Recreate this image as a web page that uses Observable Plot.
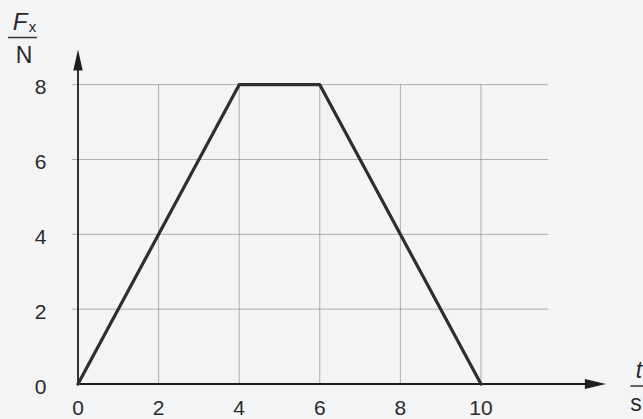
<!DOCTYPE html>
<html>
<head>
<meta charset="utf-8">
<script src="https://cdn.jsdelivr.net/npm/d3@7"></script>
<script src="https://cdn.jsdelivr.net/npm/@observablehq/plot@0.6"></script>
<style>
  html, body { margin: 0; padding: 0; background: #f3f4f6; }
</style>
</head>
<body>
<div id="chart"></div>
<script>
// Data
const time = [0, 4, 6, 10];        // t in s
const force = [0, 8, 8, 0];        // F_x in N
const xTicks = [0, 2, 4, 6, 8, 10];
const yTicks = [0, 2, 4, 6, 8];
const xGrid = [2, 4, 6, 8, 10];
const yGrid = [2, 4, 6, 8];

const xMax = 13.1;   // arrow tip of t axis
const yMax = 8.94;   // arrow tip of F axis
const gridRight = 11.67;
const gridLeft = -0.14;

const points = time.map((t, i) => ({ t, f: force[i] }));

const arrowRight = { draw(ctx) { ctx.moveTo(0, 0); ctx.lineTo(-21, -5); ctx.lineTo(-21, 5); ctx.closePath(); } };
const arrowUp = { draw(ctx) { ctx.moveTo(0, 0); ctx.lineTo(-4.7, 21); ctx.lineTo(4.7, 21); ctx.closePath(); } };

const ink = "#1e1e1e";
const textInk = "#2a2a2a";

function fractionBars(index, scales, values, dims) {
  const g = d3.create("svg:g").attr("stroke", "#333").attr("stroke-width", 1.5);
  const x0 = scales.x(0), y0 = scales.y(0), yTop = scales.y(yMax), xTip = scales.x(xMax);
  g.append("line").attr("x1", x0 - 69.5).attr("x2", x0 - 40.5).attr("y1", yTop - 11.5).attr("y2", yTop - 11.5);
  g.append("line").attr("x1", xTip + 25).attr("x2", xTip + 40).attr("y1", y0 + 2.5).attr("y2", y0 + 2.5);
  return g.node();
}

const lbl = { textAnchor: "middle", lineAnchor: "middle", fill: textInk };

const chart = Plot.plot({
  width: 643,
  height: 419,
  marginLeft: 77.5,
  marginRight: 37.6,
  marginTop: 49,
  marginBottom: 35.5,
  x: { domain: [0, xMax], axis: null },
  y: { domain: [0, yMax], axis: null },
  style: { background: "#f3f4f6", fontFamily: "'Liberation Sans', Arial, sans-serif", overflow: "visible" },
  marks: [
    Plot.ruleX(xGrid, { x: d => d, y1: 0, y2: 8, stroke: "#777", strokeWidth: 0.8, strokeOpacity: 0.7 }),
    Plot.ruleY(yGrid, { y: d => d, x1: gridLeft, x2: gridRight, stroke: "#777", strokeWidth: 0.8, strokeOpacity: 0.7 }),
    Plot.ruleY([0], { x1: 0, x2: xMax - 0.3, stroke: ink, strokeWidth: 1.8 }),
    Plot.ruleX([0], { y1: 0, y2: yMax - 0.3, stroke: ink, strokeWidth: 1.8 }),
    Plot.dot([{ x: xMax, y: 0 }], { x: "x", y: "y", symbol: arrowRight, fill: ink }),
    Plot.dot([{ x: 0, y: yMax }], { x: "x", y: "y", symbol: arrowUp, fill: ink }),
    Plot.line(points, { x: "t", y: "f", stroke: "#2e2e2e", strokeWidth: 3.2, strokeLinejoin: "round", strokeLinecap: "round" }),
    Plot.text(xTicks, { x: d => d, y: 0, dy: 24, text: d => String(d), fontSize: 21, ...lbl }),
    Plot.text(yTicks, { x: 0, y: d => d, dx: -37.5, dy: 3, text: d => String(d), fontSize: 21, ...lbl }),
    Plot.text(["F"], { frameAnchor: "top-left", dx: -58, dy: -27.5, fontSize: 24, fontStyle: "italic", ...lbl }),
    Plot.text(["x"], { frameAnchor: "top-left", dx: -45.5, dy: -22.5, fontSize: 15, ...lbl }),
    Plot.text(["N"], { frameAnchor: "top-left", dx: -54, dy: 6, fontSize: 23, ...lbl }),
    Plot.text(["t"], { frameAnchor: "bottom-right", dx: 33, dy: -13.5, fontSize: 23, fontStyle: "italic", ...lbl }),
    Plot.text(["s"], { frameAnchor: "bottom-right", dx: 30, dy: 20, fontSize: 23, ...lbl }),
    fractionBars
  ]
});

document.getElementById("chart").appendChild(chart);
</script>
</body>
</html>
